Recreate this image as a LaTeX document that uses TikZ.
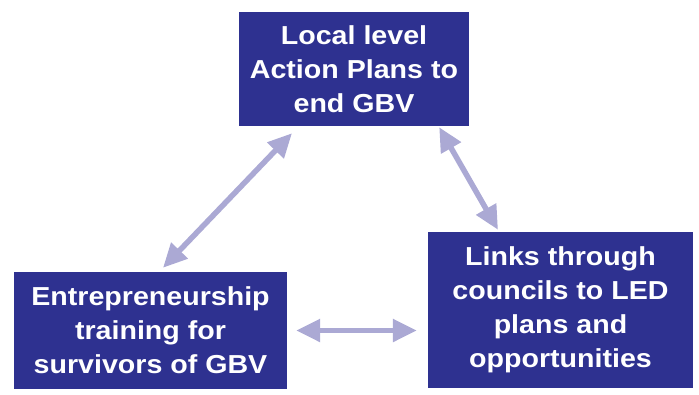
\documentclass[tikz,border=0pt]{standalone}
\usepackage{fontspec}
\setmainfont{Liberation Sans}[FakeStretch=1.1]
\usepackage{xcolor}
\usetikzlibrary{arrows.meta}

\definecolor{boxblue}{HTML}{2E3190}
\definecolor{linklav}{HTML}{ABA9D4}

\tikzset{
  stage/.style={fill=boxblue, text=white, inner sep=0pt, align=center,
    font=\fontsize{26}{34}\selectfont\bfseries},
  link/.style={draw=linklav, line width=5.5pt,
    {Triangle[length=24pt,width=22pt]}-{Triangle[length=24pt,width=22pt]}}
}

\begin{document}
\begin{tikzpicture}[x=1pt, y=-1pt]
\path[use as bounding box] (0,0) rectangle (699,394);

\node[stage, minimum width=230pt, minimum height=114pt] (lap) at (354,69)
  {Local level\\Action Plans to\\end GBV};
\node[stage, minimum width=273pt, minimum height=117pt] (ent) at (150.5,330.5)
  {Entrepreneurship\\training for\\survivors of GBV};
\node[stage, minimum width=265pt, minimum height=156pt] (lnk) at (560.5,310)
  {Links through\\councils to LED\\plans and\\opportunities};

\draw[link] ([xshift=12.5pt,yshift=4pt]ent.north) -- ([xshift=-62pt,yshift=-7pt]lap.south);
\draw[link] ([xshift=-30pt,yshift=-1pt]lap.south east) -- ([xshift=-62.5pt,yshift=2pt]lnk.north);
\draw[link, shorten <=9pt, shorten >=11pt] (ent.east) -- (ent.east -| lnk.west);
\end{tikzpicture}
\end{document}
